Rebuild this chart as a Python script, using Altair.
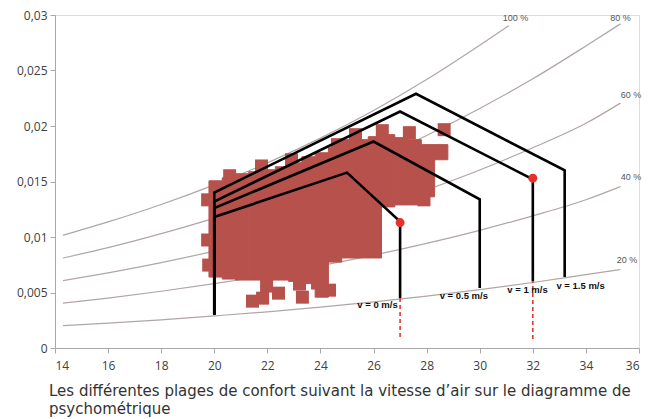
import altair as alt
import pandas as pd

# ---- relative-humidity curves (temperature °C, humidity ratio kg/kg) ----
rh_names = ["100 %", "80 %", "60 %", "40 %", "20 %"]
t_100 = [14.3, 16, 18, 20, 22, 24, 26, 28, 30, 31.1]
w_100 = [0.01016, 0.01136, 0.01293, 0.01470, 0.01668, 0.01891, 0.02140, 0.02418, 0.02727, 0.02904]
t_rh = [14.3, 16, 18, 20, 22, 24, 26, 28, 30, 32, 34, 35.3]
w_80 = [0.00811, 0.00904, 0.01030, 0.01170, 0.01327, 0.01502, 0.01696, 0.01915, 0.02158, 0.02425, 0.02721, 0.02920]
w_60 = [0.00607, 0.00677, 0.00769, 0.00873, 0.00989, 0.01119, 0.01264, 0.01425, 0.01604, 0.01804, 0.02024, 0.02206]
w_40 = [0.00404, 0.00450, 0.00511, 0.00580, 0.00656, 0.00742, 0.00837, 0.00943, 0.01060, 0.01191, 0.01336, 0.01454]
w_20 = [0.00201, 0.00224, 0.00254, 0.00289, 0.00326, 0.00368, 0.00416, 0.00468, 0.00526, 0.00590, 0.00661, 0.00707]

rh_label_t = [31.35, 35.3, 35.7, 35.7, 35.55]
rh_label_w = [0.0297, 0.0297, 0.0228, 0.0154, 0.0079]

# ---- comfort zones (polylines) ----
zone_names = ["v = 0 m/s", "v = 0.5 m/s", "v = 1 m/s", "v = 1.5 m/s"]
zone_t = [
    [20, 20, 25.0, 27, 27],
    [20, 20, 26.0, 30, 30],
    [20, 20, 27.0, 32, 32],
    [20, 20, 27.6, 33.2, 33.2],
]
zone_w = [
    [0.0030, 0.0118, 0.0158, 0.0114, 0.0045],
    [0.0030, 0.0126, 0.0186, 0.0134, 0.0054],
    [0.0030, 0.0132, 0.0213, 0.0152, 0.0060],
    [0.0030, 0.0140, 0.0229, 0.0160, 0.0064],
]
zone_label_t = [26.15, 29.4, 31.8, 33.8]
zone_label_w = [0.00386, 0.00467, 0.00522, 0.00560]

# red points and dashed drops
dot_t = [27, 32]
dot_w = [0.0113, 0.0153]
drop_t = [27, 32]
drop_top = [0.0045, 0.0060]
drop_bottom = [0.0010, 0.0008]

# ---- measured cloud: column bands (t from, t to, w low, w high) ----
col_t0 = [19.8, 20.3, 20.8, 21.3, 21.8, 22.3, 22.8, 23.3, 23.8, 24.3, 24.8, 25.3, 25.8, 26.3, 26.8, 27.3, 27.8, 28.3]
col_w_low = [0.00639, 0.00621, 0.00612, 0.00612, 0.00612, 0.00612, 0.00600, 0.00580, 0.00458, 0.00774, 0.00811, 0.00811, 0.00811, 0.01271, 0.01289, 0.01289, 0.01362, 0.01696]
col_w_high = [0.01506, 0.01533, 0.01570, 0.01588, 0.01606, 0.01633, 0.01669, 0.01723, 0.01759, 0.01804, 0.01877, 0.01877, 0.01904, 0.01922, 0.01895, 0.01877, 0.01832, 0.01832]
col_width = 0.5

# loose squares around the cloud edge
sq_t = [28.66, 27.35, 28.36, 21.44, 21.82, 21.97, 22.42, 23.32, 23.21, 23.89, 24.34,
        19.75, 19.75, 19.79, 20.58, 21.78, 22.91, 24.64, 25.32, 26.33, 27.9, 26.03, 25.65]
sq_w = [0.01967, 0.01940, 0.01768, 0.00422, 0.00449, 0.00558, 0.00494, 0.00458, 0.00576, 0.00585, 0.00521,
        0.01335, 0.00973, 0.00747, 0.01552, 0.01640, 0.01696, 0.01832, 0.01922, 0.01958, 0.01335, 0.00883, 0.01001]

# ---- build tables ----
rh_rows = []
for name, ts, ws in zip(rh_names, [t_100, t_rh, t_rh, t_rh, t_rh], [w_100, w_80, w_60, w_40, w_20]):
    for i, (t, w) in enumerate(zip(ts, ws)):
        rh_rows.append({"rh": name, "t": t, "w": w, "i": i})
rh_df = pd.DataFrame(rh_rows)
rh_lab = pd.DataFrame({"label": rh_names, "t": rh_label_t, "w": rh_label_w})

zone_rows = []
for name, ts, ws in zip(zone_names, zone_t, zone_w):
    for i, (t, w) in enumerate(zip(ts, ws)):
        zone_rows.append({"zone": name, "t": t, "w": w, "i": i})
zone_df = pd.DataFrame(zone_rows)
zone_lab = pd.DataFrame({"label": zone_names, "t": zone_label_t, "w": zone_label_w})

cols = pd.DataFrame({"t0": col_t0, "t1": [t + col_width for t in col_t0], "w0": col_w_low, "w1": col_w_high})
sq = pd.DataFrame({"t": sq_t, "w": sq_w})
dots = pd.DataFrame({"t": dot_t, "w": dot_w})
drops = pd.DataFrame({"t": drop_t, "w0": drop_bottom, "w1": drop_top})

xs = alt.Scale(domain=[14, 36], nice=False)
ys = alt.Scale(domain=[0, 0.03], nice=False)
X = alt.X("t:Q", scale=xs, axis=alt.Axis(values=list(range(14, 37, 2)), title=None, grid=False,
                                       labelFont="Open Sans", labelFontSize=12, labelColor="#404040",
                                       domainColor="#a8a8a8", tickColor="#a8a8a8", tickSize=5, labelPadding=7))
Y = alt.Y("w:Q", scale=ys, axis=alt.Axis(values=[0, 0.005, 0.01, 0.015, 0.02, 0.025, 0.03], title=None, grid=False,
                                       labelExpr="replace(format(datum.value, '~g'), '.', ',')",
                                       labelFont="Open Sans", labelFontSize=12, labelColor="#404040",
                                       domainColor="#a8a8a8", tickColor="#a8a8a8", tickSize=5, labelPadding=3))

red = "#b7514c"

curves = alt.Chart(rh_df).mark_line(color="#b0a6a4", strokeWidth=1.2, interpolate="monotone").encode(
    x=X, y=Y, detail="rh:N", order="i:Q")
curve_labels = alt.Chart(rh_lab).mark_text(font="Liberation Sans", fontSize=9, color="#555555").encode(
    x=alt.X("t:Q", scale=xs), y=alt.Y("w:Q", scale=ys), text="label:N")

cloud = alt.Chart(cols).mark_rect(color=red, stroke=red, strokeWidth=1, opacity=1).encode(
    x=alt.X("t0:Q", scale=xs), x2="t1:Q", y=alt.Y("w0:Q", scale=ys), y2="w1:Q")
squares = alt.Chart(sq).mark_square(color=red, size=169, opacity=1, filled=True).encode(
    x=alt.X("t:Q", scale=xs), y=alt.Y("w:Q", scale=ys))

zones = alt.Chart(zone_df).mark_line(color="#000000", strokeWidth=2.6).encode(
    x=alt.X("t:Q", scale=xs), y=alt.Y("w:Q", scale=ys), detail="zone:N", order="i:Q")
zone_labels = alt.Chart(zone_lab).mark_text(font="Liberation Sans", fontSize=9.5, fontWeight="bold", color="#111111").encode(
    x=alt.X("t:Q", scale=xs), y=alt.Y("w:Q", scale=ys), text="label:N")

drop_lines = alt.Chart(drops).mark_rule(color="#e03a32", strokeWidth=1.6, strokeDash=[4, 3]).encode(
    x=alt.X("t:Q", scale=xs), y=alt.Y("w0:Q", scale=ys), y2="w1:Q")
red_dots = alt.Chart(dots).mark_circle(color="#e8302a", size=80, opacity=1).encode(
    x=alt.X("t:Q", scale=xs), y=alt.Y("w:Q", scale=ys))

chart = alt.layer(curves, cloud, squares, zones, drop_lines, red_dots, curve_labels, zone_labels).properties(
    width=584, height=333,
    padding={"left": 47, "top": 7, "right": 10, "bottom": 72},
    autosize=alt.AutoSizeParams(type="none"),
    title=alt.TitleParams(
        text=["Les différentes plages de confort suivant la vitesse d’air sur le diagramme de", "psychométrique"],
        orient="bottom", anchor="start", frame="group", dx=-6, font="DejaVu Sans", fontSize=15, fontWeight="normal",
        color="#333333", offset=13, lineHeight=18),
).configure_view(stroke=None).configure(background="white")

chart.save("out.html", embed_options={"renderer": "svg", "actions": False})
